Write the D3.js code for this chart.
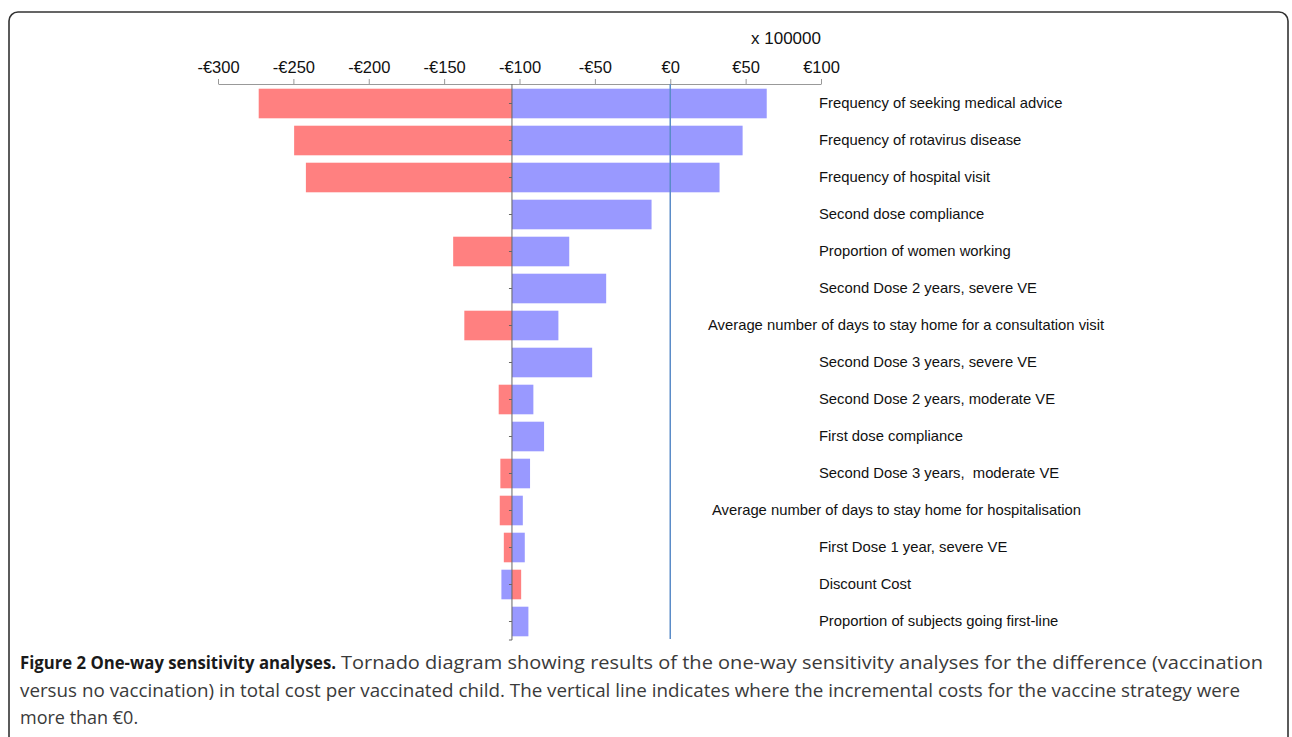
<!DOCTYPE html>
<html>
<head>
<meta charset="utf-8">
<script src="https://cdn.jsdelivr.net/npm/d3@7"></script>
<style>
  body { margin: 0; background: #fff; }
  svg { display: block; }
</style>
</head>
<body>
<svg id="tornado" width="1292" height="737"></svg>
<script>
// parameters, top to bottom
var labels = [
  "Frequency of seeking medical advice",
  "Frequency of rotavirus disease",
  "Frequency of hospital visit",
  "Second dose compliance",
  "Proportion of women working",
  "Second Dose 2 years, severe VE",
  "Average number of days to stay home for a consultation visit",
  "Second Dose 3 years, severe VE",
  "Second Dose 2 years, moderate VE",
  "First dose compliance",
  "Second Dose 3 years,  moderate VE",
  "Average number of days to stay home for hospitalisation",
  "First Dose 1 year, severe VE",
  "Discount Cost",
  "Proportion of subjects going first-line"
]
// end values of each bar (euro x 100000), base case in the middle
var baseValue = -105
var redValues  = [-273, -249.5, -241.7, -105, -144, -105, -136.6, -105, -113.8, -105, -112.7, -113.1, -110.4, -98.9, -105]
var blueValues = [64, 48, 32.7, -12.4, -67, -42.5, -74.2, -51.8, -90.8, -83.7, -93, -97.8, -96.5, -112, -94.1]
var tickValues = [-300, -250, -200, -150, -100, -50, 0, 50, 100]

var dimensions = {
  width: 1292,
  height: 737,
  plot: { left: 218, right: 821, top: 85, bottom: 640 }
}

var svg = d3.select("#tornado")

// figure frame with rounded top corners
svg.append("rect")
  .attr("x", 9).attr("y", 12)
  .attr("width", 1279).attr("height", 800)
  .attr("rx", 9)
  .attr("fill", "none")
  .attr("stroke", "#333")
  .attr("stroke-width", 1.6)

var xScale = d3.scaleLinear()
  .domain([-300, 100])
  .range([dimensions.plot.left, dimensions.plot.right])

var yScale = d3.scaleBand()
  .domain(labels)
  .range([dimensions.plot.top, dimensions.plot.bottom])
  .paddingInner(0.2)
  .paddingOuter(0.1)

var fmt = v => (v < 0 ? "-" : "") + "\u20ac" + Math.abs(v)

var xAxisGen = d3.axisTop(xScale)
  .tickValues(tickValues)
  .tickFormat(fmt)
  .tickSizeInner(5)
  .tickSizeOuter(0)
  .tickPadding(6)

var xAxis = svg.append("g")
  .attr("transform", "translate(0,84)")
  .call(xAxisGen)
xAxis.select(".domain").attr("stroke", "#999")
xAxis.selectAll(".tick line").attr("stroke", "#999")
xAxis.selectAll(".tick text")
  .attr("fill", "#111")
  .style("font-family", "Liberation Sans, Arial, sans-serif")
  .style("font-size", "16.5px")

svg.append("text")
  .attr("x", 786).attr("y", 44)
  .attr("text-anchor", "middle")
  .style("font-family", "Liberation Sans, Arial, sans-serif")
  .style("font-size", "17px")
  .attr("fill", "#111")
  .text("x 100000")

// bars
var rows = labels.map((l, i) => ({ label: l, red: redValues[i], blue: blueValues[i] }))

svg.append("g")
  .selectAll("rect")
  .data(rows)
  .enter().append("rect")
  .attr("x", d => xScale(Math.min(baseValue, d.red)))
  .attr("y", d => yScale(d.label))
  .attr("width", d => Math.abs(xScale(d.red) - xScale(baseValue)))
  .attr("height", yScale.bandwidth())
  .attr("fill", "#ff8080")

svg.append("g")
  .selectAll("rect")
  .data(rows)
  .enter().append("rect")
  .attr("x", d => xScale(Math.min(baseValue, d.blue)))
  .attr("y", d => yScale(d.label))
  .attr("width", d => Math.abs(xScale(d.blue) - xScale(baseValue)))
  .attr("height", yScale.bandwidth())
  .attr("fill", "#9999ff")

// vertical line at zero
svg.append("line")
  .attr("x1", xScale(0)).attr("x2", xScale(0))
  .attr("y1", 84).attr("y2", 639)
  .attr("stroke", "#5b8cc8")
  .attr("stroke-width", 1.5)

// category axis at the base case
var yAxisGen = d3.axisLeft(yScale)
  .tickSizeInner(3)
  .tickSizeOuter(0)
  .tickFormat("")
var yAxis = svg.append("g")
  .attr("transform", `translate(${xScale(baseValue)},0)`)
  .call(yAxisGen)
yAxis.select(".domain")
  .attr("d", `M0,84V${dimensions.plot.bottom}H-3`)
  .attr("stroke", "#666")
yAxis.selectAll(".tick line").attr("stroke", "#666")

// parameter labels
svg.append("g")
  .selectAll("text")
  .data(labels)
  .enter().append("text")
  .attr("x", d => d.startsWith("Average number of days to stay home for a") ? 708 : d.startsWith("Average") ? 712 : 819)
  .attr("y", d => yScale(d) + yScale.bandwidth() / 2)
  .attr("dy", "0.3em")
  .style("font-family", "Liberation Sans, Arial, sans-serif")
  .style("font-size", "14.8px")
  .style("white-space", "pre")
  .attr("fill", "#111")
  .text(d => d)

// caption, full lines stretched to the width they have in the figure
var captionLines = [
  ["Figure 2 One-way sensitivity analyses.", "Tornado diagram showing results of the one-way sensitivity analyses for the difference (vaccination"],
  ["", "versus no vaccination) in total cost per vaccinated child. The vertical line indicates where the incremental costs for the vaccine strategy were"],
  ["", "more than \u20ac0."]
]
var captionWidths = [[316, 922], [0, 1220], [0, null]]
var caption = svg.append("g")
  .style("font-family", "Open Sans, sans-serif")
  .style("font-size", "18px")
captionLines.forEach(function (line, i) {
  var x = 20
  if (line[0]) {
    caption.append("text")
      .attr("x", x).attr("y", 669 + i * 27.5)
      .attr("font-weight", "bold").attr("fill", "#1a1a1a")
      .attr("textLength", captionWidths[i][0])
      .attr("lengthAdjust", "spacingAndGlyphs")
      .text(line[0])
    x += captionWidths[i][0] + 5
  }
  var t = caption.append("text")
    .attr("x", x).attr("y", 669 + i * 27.5)
    .attr("fill", "#3a3a3a")
    .text(line[1])
  if (captionWidths[i][1]) {
    t.attr("textLength", captionWidths[i][1]).attr("lengthAdjust", "spacingAndGlyphs")
  }
})
</script>
</body>
</html>
